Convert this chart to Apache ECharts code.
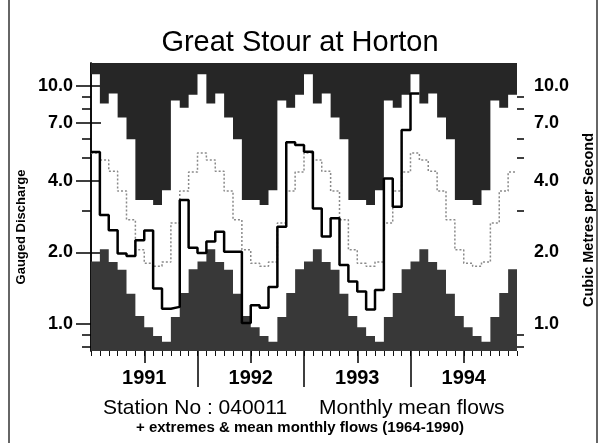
<!DOCTYPE html>
<html>
<head>
<meta charset="utf-8">
<title>Great Stour at Horton</title>
<script src="https://cdn.jsdelivr.net/npm/echarts@6/dist/echarts.min.js"></script>
<style>
  html, body { margin: 0; padding: 0; background: #fff; }
  #chart { width: 600px; height: 443px; }
</style>
</head>
<body>
<div id="chart"></div>
<script>
// monthly statistics 1964-1990, Jan..Dec (m3/s)
const monthMax  = [11.2, 8.45, 9.3, 7.37, 5.98, 3.32, 3.32, 3.16, 3.65, 8.7, 8.1, 9.2];
const monthMin  = [1.83, 2.06, 1.82, 1.69, 1.34, 1.08, 0.97, 0.89, 0.843, 1.07, 1.35, 1.70];
const monthMean = [5.23, 4.89, 4.39, 3.62, 2.74, 2.05, 1.80, 1.75, 1.82, 2.66, 3.62, 4.35];

// monthly mean flows, Jan 1991 .. Jan 1994
const flows = [
  5.28, 2.87, 2.48, 1.98, 1.93, 2.25, 2.47, 1.41, 1.16, 1.18, 3.32, 2.09,
  1.99, 2.22, 2.44, 2.01, 2.01, 1.01, 1.20, 1.17, 1.43, 2.56, 5.80, 5.65,
  5.30, 3.06, 2.33, 2.78, 1.77, 1.51, 1.37, 1.15, 1.39, 4.09, 3.11, 6.53,
  9.31
];

const years = ['1991', '1992', '1993', '1994'];
const yearMid = [6, 18, 30, 42];
const yearEdge = [12, 24, 36];
const majorTicks = [1, 2, 4, 7, 10];
const minorTicks = [0.8, 0.9, 3, 5, 6, 8, 9];

const FONT = '"Liberation Sans", Arial, Helvetica, sans-serif';
const Y_MIN = 0.77, Y_MAX = 12.5;

function repeatYears(arr) {
  let out = [];
  years.forEach(() => { out = out.concat(arr); });
  return out;
}
// one point at the start of each month, plus a closing point at the month's end
function stepData(values) {
  const pts = values.map((v, i) => [i, v]);
  pts.push([values.length, values[values.length - 1]]);
  return pts;
}

function xAxisBase(extra) {
  return Object.assign({
    type: 'value', min: 0, max: 48, position: 'bottom',
    axisLine: { show: false }, splitLine: { show: false },
    axisLabel: { show: false }
  }, extra);
}
function yAxisBase(extra) {
  return Object.assign({
    type: 'log', logBase: 10, min: Y_MIN, max: Y_MAX,
    splitLine: { show: false }, minorTick: { show: false },
    axisLine: { show: false }, axisLabel: { show: false }
  }, extra);
}

const chart = echarts.init(document.getElementById('chart'), null, { renderer: 'canvas' });

chart.setOption({
  backgroundColor: '#fff',
  animation: false,
  title: {
    text: 'Great Stour at Horton', left: 'center', top: 28, padding: 0,
    textStyle: { fontSize: 29, fontWeight: 'normal', color: '#000', fontFamily: FONT }
  },
  grid: { left: 91, right: 83, top: 63, bottom: 92 },
  xAxis: [
    xAxisBase({ interval: 1, axisTick: { show: true, length: 5, lineStyle: { color: '#111', width: 1 } } }),
    xAxisBase({
      axisTick: { show: true, customValues: yearMid, length: 12, lineStyle: { color: '#000', width: 1.5 } },
      axisLabel: {
        show: true, customValues: yearMid, margin: 17,
        formatter: v => years[yearMid.indexOf(Math.round(v))],
        fontSize: 20, fontWeight: 'bold', color: '#000', fontFamily: FONT
      }
    }),
    xAxisBase({ axisTick: { show: true, customValues: yearEdge, length: 36, lineStyle: { color: '#000', width: 1.5 } } })
  ],
  yAxis: [
    yAxisBase({
      position: 'left',
      axisLine: { show: true, lineStyle: { color: '#000', width: 1.5 } },
      axisTick: { show: true, customValues: majorTicks, length: 15, lineStyle: { color: '#000', width: 1.5 } },
      axisLabel: {
        show: true, customValues: majorTicks, margin: 18,
        formatter: v => Number(v).toFixed(1),
        fontSize: 18, fontWeight: 'bold', color: '#000', fontFamily: FONT
      }
    }),
    yAxisBase({
      position: 'left',
      axisTick: { show: true, customValues: minorTicks, length: 9, lineStyle: { color: '#000', width: 1.5 } }
    }),
    yAxisBase({
      position: 'right',
      axisLine: { show: true, lineStyle: { color: '#000', width: 1.5 } },
      axisTick: { show: true, customValues: majorTicks, length: 10, lineStyle: { color: '#000', width: 1.5 } },
      axisLabel: {
        show: true, customValues: majorTicks, margin: 17,
        formatter: v => Number(v).toFixed(1),
        fontSize: 18, fontWeight: 'bold', color: '#000', fontFamily: FONT
      }
    }),
    yAxisBase({
      position: 'right',
      axisTick: { show: true, customValues: minorTicks, length: 7, lineStyle: { color: '#000', width: 1.5 } }
    })
  ],
  series: [
    {
      name: 'max', type: 'line', step: 'end', symbol: 'none',
      data: stepData(repeatYears(monthMax)),
      lineStyle: { width: 0 },
      areaStyle: { origin: 'end', color: '#262626', opacity: 1 }
    },
    {
      name: 'min', type: 'line', step: 'end', symbol: 'none',
      data: stepData(repeatYears(monthMin)),
      lineStyle: { width: 0 },
      areaStyle: { origin: 'start', color: '#383838', opacity: 1 }
    },
    {
      name: 'mean', type: 'line', step: 'end', symbol: 'none',
      data: stepData(repeatYears(monthMean)),
      lineStyle: { color: '#8a8a8a', width: 1.5, type: [2, 2] }
    },
    {
      name: 'flow', type: 'line', step: 'end', symbol: 'none',
      data: stepData(flows),
      lineStyle: { color: '#000', width: 2.5 }
    }
  ],
  graphic: [
    { type: 'line', shape: { x1: 9, y1: 0, x2: 9, y2: 443 }, style: { stroke: '#333', lineWidth: 1.5 } },
    { type: 'line', shape: { x1: 597, y1: 0, x2: 597, y2: 443 }, style: { stroke: '#333', lineWidth: 1.5 } },
    {
      type: 'text', x: 21, y: 227, rotation: Math.PI / 2,
      style: { text: 'Gauged Discharge', fill: '#000', font: 'bold 13px ' + FONT, align: 'center', verticalAlign: 'middle' }
    },
    {
      type: 'text', x: 589, y: 220, rotation: Math.PI / 2,
      style: { text: 'Cubic Metres per Second', fill: '#000', font: 'bold 14.5px ' + FONT, align: 'center', verticalAlign: 'middle' }
    },
    {
      type: 'text', x: 103, y: 408,
      style: { text: 'Station No : 040011', fill: '#000', font: '21px ' + FONT, align: 'left', verticalAlign: 'middle' }
    },
    {
      type: 'text', x: 319, y: 408,
      style: { text: 'Monthly mean flows', fill: '#000', font: '21px ' + FONT, align: 'left', verticalAlign: 'middle' }
    },
    {
      type: 'text', x: 300, y: 428,
      style: { text: '+ extremes & mean monthly flows (1964-1990)', fill: '#000', font: 'bold 15px ' + FONT, align: 'center', verticalAlign: 'middle' }
    }
  ]
});
</script>
</body>
</html>
